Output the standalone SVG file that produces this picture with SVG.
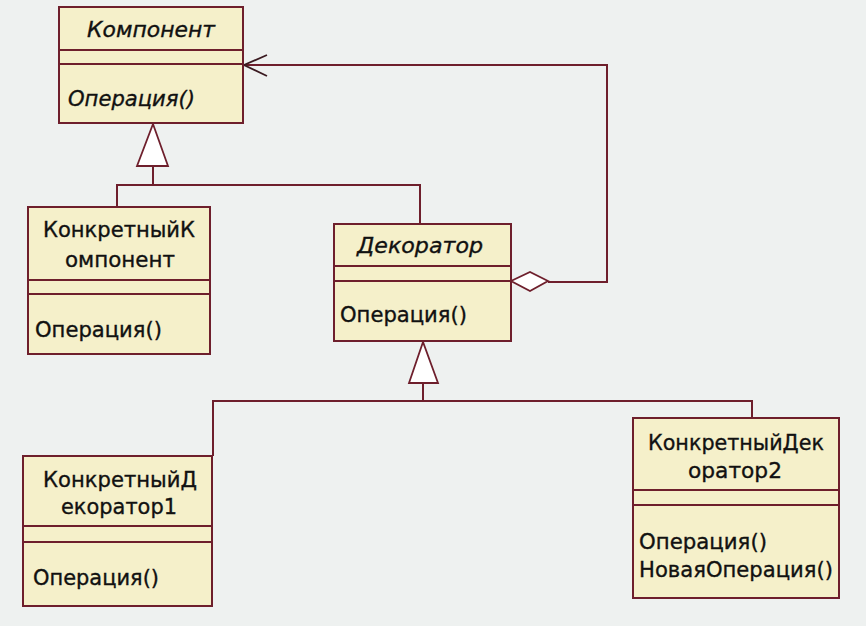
<svg xmlns="http://www.w3.org/2000/svg" width="866" height="626" viewBox="0 0 866 626">
<style>
.box{fill:#f5f0ca;stroke:#6e1f2c;stroke-width:2}
.div{stroke:#6e1f2c;stroke-width:2;fill:none}
.ln{stroke:#6e1f2c;stroke-width:2;fill:none}
.tri{fill:#ffffff;stroke:#6e1f2c;stroke-width:1.8}
.t{font-family:"DejaVu Sans","Liberation Sans",sans-serif;font-size:21px;fill:#111;stroke:#111;stroke-width:0.35}
.i{font-style:italic}
</style>
<rect width="866" height="626" fill="#eef1f0"/>
<g id="connectors">
  <polyline class="ln" points="117,207 117,185 420,185 420,224"/>
  <line class="ln" x1="153" y1="166" x2="153" y2="185"/>
  <polygon class="tri" points="153,124 137,166 168,166"/>
  <polyline class="ln" points="213,456 213,401 752,401 752,418"/>
  <line class="ln" x1="423" y1="383" x2="423" y2="401"/>
  <polygon class="tri" points="423,342 409,383 438,383"/>
  <polyline class="ln" points="548,282 607,282 607,65 244,65"/>
  <polygon points="511,281 530,272 548,281 530,291" fill="#ffffff" stroke="#6e1f2c" stroke-width="1.8"/>
  <polyline points="267,55 244,65 267,76" fill="none" stroke="#3a1a20" stroke-width="1.8"/>
</g>
<g id="komponent">
  <rect class="box" x="59" y="7" width="184" height="116"/>
  <line class="div" x1="59" y1="50" x2="243" y2="50"/>
  <line class="div" x1="59" y1="64" x2="243" y2="64"/>
  <text class="t i" x="87" y="37" textLength="128" lengthAdjust="spacingAndGlyphs">Компонент</text>
  <text class="t i" x="68" y="106" textLength="127" lengthAdjust="spacingAndGlyphs">Операция()</text>
</g>
<g id="konkretny-komponent">
  <rect class="box" x="28" y="207" width="182" height="147"/>
  <line class="div" x1="28" y1="280" x2="210" y2="280"/>
  <line class="div" x1="28" y1="294" x2="210" y2="294"/>
  <text class="t" x="43" y="237" textLength="152" lengthAdjust="spacingAndGlyphs">КонкретныйК</text>
  <text class="t" x="65" y="267" textLength="110" lengthAdjust="spacingAndGlyphs">омпонент</text>
  <text class="t" x="35" y="337" textLength="127" lengthAdjust="spacingAndGlyphs">Операция()</text>
</g>
<g id="dekorator">
  <rect class="box" x="334" y="224" width="177" height="117"/>
  <line class="div" x1="334" y1="266" x2="511" y2="266"/>
  <line class="div" x1="334" y1="281" x2="511" y2="281"/>
  <text class="t i" x="357" y="253" textLength="126" lengthAdjust="spacingAndGlyphs">Декоратор</text>
  <text class="t" x="340" y="322" textLength="127" lengthAdjust="spacingAndGlyphs">Операция()</text>
</g>
<g id="konkretny-dekorator1">
  <rect class="box" x="23" y="456" width="189" height="150"/>
  <line class="div" x1="23" y1="526" x2="212" y2="526"/>
  <line class="div" x1="23" y1="542" x2="212" y2="542"/>
  <text class="t" x="43" y="487" textLength="154" lengthAdjust="spacingAndGlyphs">КонкретныйД</text>
  <text class="t" x="61" y="514" textLength="116" lengthAdjust="spacingAndGlyphs">екоратор1</text>
  <text class="t" x="33" y="585" textLength="126" lengthAdjust="spacingAndGlyphs">Операция()</text>
</g>
<g id="konkretny-dekorator2">
  <rect class="box" x="633" y="418" width="206" height="180"/>
  <line class="div" x1="633" y1="490" x2="839" y2="490"/>
  <line class="div" x1="633" y1="505" x2="839" y2="505"/>
  <text class="t" x="648" y="450" textLength="176" lengthAdjust="spacingAndGlyphs">КонкретныйДек</text>
  <text class="t" x="688" y="478" textLength="94" lengthAdjust="spacingAndGlyphs">оратор2</text>
  <text class="t" x="639" y="549" textLength="128" lengthAdjust="spacingAndGlyphs">Операция()</text>
  <text class="t" x="639" y="577" textLength="194" lengthAdjust="spacingAndGlyphs">НоваяОперация()</text>
</g>
</svg>
